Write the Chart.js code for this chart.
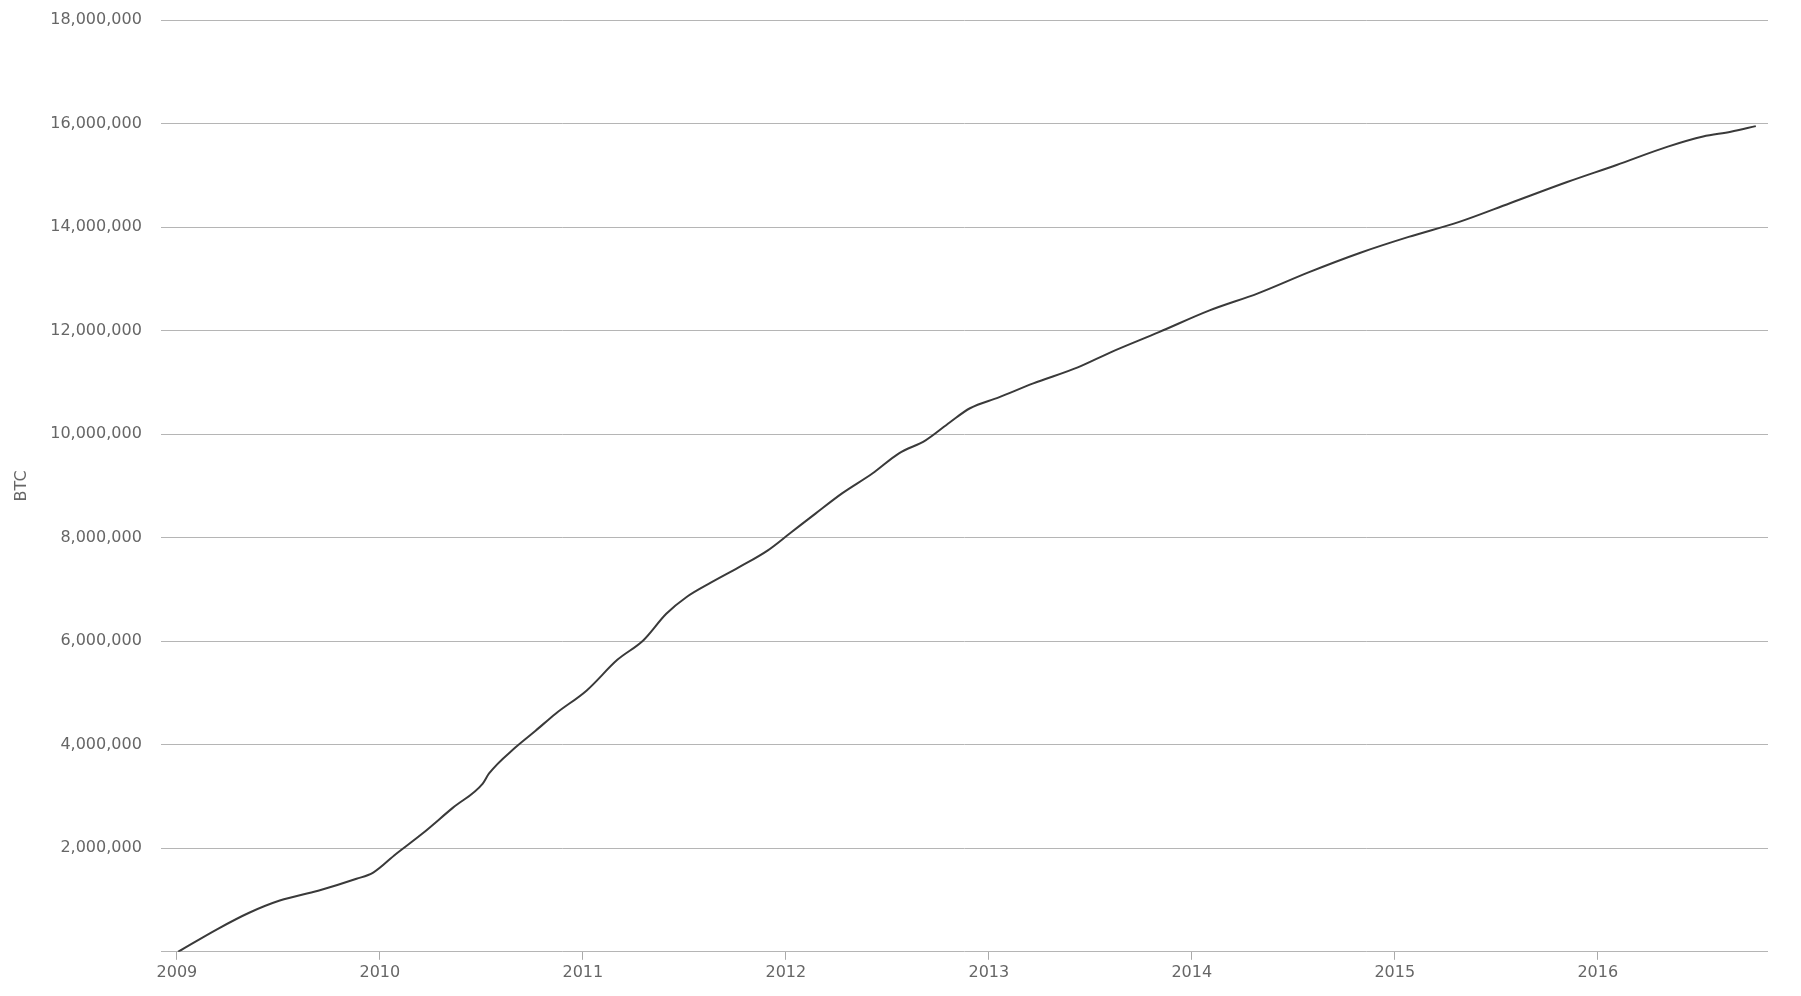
<!DOCTYPE html>
<html>
<head>
<meta charset="utf-8">
<title>BTC</title>
<script src="https://cdn.jsdelivr.net/npm/chart.js@4/dist/chart.umd.min.js"></script>
<style>
  html, body { margin: 0; padding: 0; background: #fff; }
  #wrap { width: 1801px; height: 996px; }
</style>
</head>
<body>
<div id="wrap"><canvas id="myChart" width="1801" height="996"></canvas></div>
<script>
'use strict';

// 日付
var dates = [
  '2009-01-03', '2009-03-15', '2009-05-10', '2009-07-05', '2009-09-12', '2009-11-20', '2009-12-20',
  '2010-01-30', '2010-03-18', '2010-05-12', '2010-07-05', '2010-07-16', '2010-09-02', '2010-10-08', '2010-11-13',
  '2011-01-08', '2011-03-04', '2011-04-20', '2011-05-31', '2011-07-06', '2011-08-19', '2011-10-09', '2011-11-29',
  '2012-01-08', '2012-02-24', '2012-04-12', '2012-06-05', '2012-07-23', '2012-09-09', '2012-10-23', '2012-11-28',
  '2013-01-19', '2013-03-22', '2013-06-10', '2013-08-08', '2013-11-03',
  '2014-02-02', '2014-04-30', '2014-07-31', '2014-10-30',
  '2015-01-26', '2015-04-27', '2015-07-27', '2015-11-07',
  '2016-02-04', '2016-05-05', '2016-07-09', '2016-08-28', '2016-10-12'
];

// 流通しているBTCの総量
var supply = [
  50, 440000, 750000, 990000, 1180000, 1410000, 1530000,
  1890000, 2280000, 2780000, 3250000, 3440000, 3950000, 4270000, 4600000,
  5050000, 5640000, 6020000, 6530000, 6850000, 7130000, 7430000, 7750000,
  8080000, 8470000, 8860000, 9240000, 9630000, 9880000, 10230000, 10500000,
  10710000, 10980000, 11290000, 11580000, 11970000,
  12390000, 12720000, 13130000, 13500000,
  13810000, 14100000, 14460000, 14870000,
  15200000, 15550000, 15750000, 15840000, 15950000
];

// 目盛り
var yearTicks = [2009, 2010, 2011, 2012, 2013, 2014, 2015, 2016];
var btcTicks = [0, 2000000, 4000000, 6000000, 8000000, 10000000, 12000000, 14000000, 16000000, 18000000];

// 日付を小数の年に変換
function toYear(s) {
  var d = new Date(s + 'T00:00:00Z');
  var y = d.getUTCFullYear();
  var start = Date.UTC(y, 0, 1);
  var end = Date.UTC(y + 1, 0, 1);
  return y + (d.getTime() - start) / (end - start);
}

var points = dates.map(function (s, i) {
  return { x: toYear(s), y: supply[i] };
});

Chart.defaults.font.family = '"DejaVu Sans", sans-serif';
Chart.defaults.font.size = 16;
Chart.defaults.color = '#666';

var ctx = document.getElementById('myChart');

var myChart = new Chart(ctx, {
  type: 'line',
  data: {
    datasets: [{
      label: 'BTC',
      data: points,
      borderColor: '#3a3a3a',
      borderWidth: 2,
      pointRadius: 0,
      fill: false,
      cubicInterpolationMode: 'monotone'
    }]
  },
  options: {
    responsive: false,
    animation: false,
    layout: {
      padding: { left: 8, right: 33, top: 20, bottom: 11 }
    },
    plugins: {
      legend: { display: false },
      tooltip: { enabled: false }
    },
    scales: {
      x: {
        type: 'linear',
        min: toYear('2008-12-03'),
        max: toYear('2016-11-03'),
        afterBuildTicks: function (scale) {
          scale.ticks = yearTicks.map(function (v) { return { value: v }; });
        },
        ticks: {
          padding: 3,
          maxRotation: 0,
          autoSkip: false,
          callback: function (v) { return String(v); }
        },
        grid: {
          drawOnChartArea: false,
          drawTicks: true,
          tickLength: 8,
          color: '#aaa'
        },
        border: { display: false }
      },
      y: {
        min: 0,
        max: 18000000,
        afterBuildTicks: function (scale) {
          scale.ticks = btcTicks.map(function (v) { return { value: v }; });
        },
        // 上端のラベル分の余白は layout.padding で指定する
        afterFit: function (scale) {
          scale.paddingTop = 0;
          scale.paddingBottom = 0;
        },
        ticks: {
          padding: 19,
          callback: function (v) { return v === 0 ? '' : v.toLocaleString('en-US'); }
        },
        grid: {
          drawTicks: false,
          color: '#b5b5b5',
          lineWidth: 1
        },
        border: { display: false },
        title: {
          display: true,
          text: 'BTC',
          color: '#666',
          padding: { top: 4, bottom: 0 }
        }
      }
    }
  }
});
</script>
</body>
</html>
